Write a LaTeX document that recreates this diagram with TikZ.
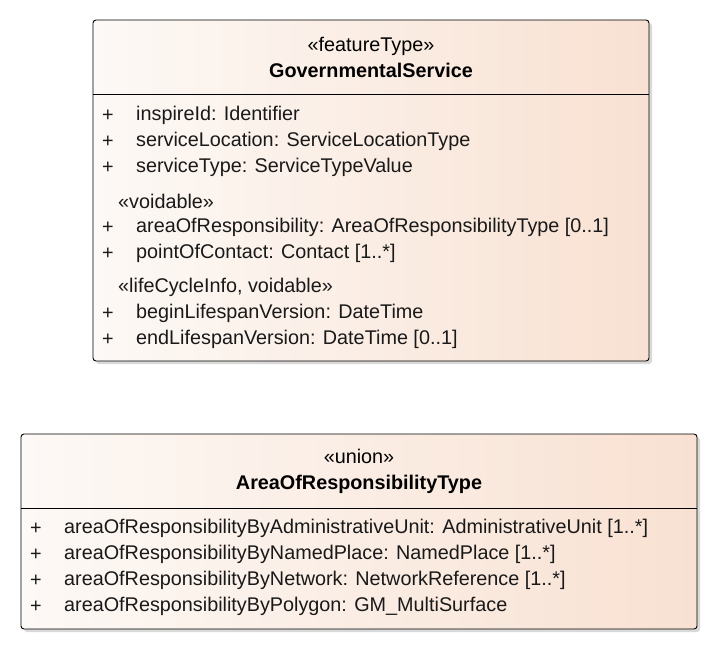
\documentclass[tikz,border=0pt]{standalone}
\usepackage{fontspec}
\setmainfont{Liberation Sans}
\usetikzlibrary{shadows}

\begin{document}
\begin{tikzpicture}[x=1pt, y=-1pt,
    % Colors
    cpale/.style={left color={rgb,255:red,253;green,249;blue,246}, right color={rgb,255:red,248;green,225;blue,210}},
    % Styles
    classbox/.style={draw, rounded corners=3pt, line width=0.9pt, cpale,
                     drop shadow={shadow xshift=3pt, shadow yshift=-3pt, fill=black!25, opacity=0.6}},
    header/.style={align=center, font=\fontsize{19.8}{26}\selectfont, inner sep=0pt},
    attr/.style={anchor=west, font=\fontsize{19.8}{23}\selectfont, inner sep=0pt, text=black!90, yshift=-1.5pt},
    vis/.style={anchor=center, font=\fontsize{19.8}{23}\selectfont, inner sep=0pt, text=black!90, yshift=-1.5pt},
  ]
  \useasboundingbox (0,0) rectangle (718,650);

  % GovernmentalService
  \node[classbox, minimum width=556pt, minimum height=341pt] (gs) at (371,190.5) {};
  \node[header, minimum width=556pt, minimum height=74pt] (gshead) at (371,57) {
    «featureType»\\
    \textbf{GovernmentalService}
  };
  \draw[line width=0.9pt] (gshead.south west) -- (gshead.south east);

  \node[vis] (gsp1) at (108,114) {+};
  \node[attr] (gsa1) at (136,114) {inspireId: Identifier};
  \node[vis] (gsp2) at (108,140) {+};
  \node[attr] (gsa2) at (136,140) {serviceLocation: ServiceLocationType};
  \node[vis] (gsp3) at (108,166) {+};
  \node[attr] (gsa3) at (136,166) {serviceType: ServiceTypeValue};

  \node[attr] (gsst1) at (118,200) {«voidable»};
  \node[vis] (gsp4) at (108,226) {+};
  \node[attr] (gsa4) at (136,226) {areaOfResponsibility: AreaOfResponsibilityType [0..1]};
  \node[vis] (gsp5) at (108,252) {+};
  \node[attr] (gsa5) at (136,252) {pointOfContact: Contact [1..*]};

  \node[attr] (gsst2) at (118,286) {«lifeCycleInfo, voidable»};
  \node[vis] (gsp6) at (108,312) {+};
  \node[attr] (gsa6) at (136,312) {beginLifespanVersion: DateTime};
  \node[vis] (gsp7) at (108,338) {+};
  \node[attr] (gsa7) at (136,338) {endLifespanVersion: DateTime [0..1]};

  % AreaOfResponsibilityType
  \node[classbox, minimum width=676pt, minimum height=195pt] (aor) at (359,531.5) {};
  \node[header, minimum width=676pt, minimum height=74pt] (aorhead) at (359,471) {
    «union»\\
    \textbf{AreaOfResponsibilityType}
  };
  \draw[line width=0.9pt] (aorhead.south west) -- (aorhead.south east);

  \node[vis] (aorp1) at (36,527) {+};
  \node[attr] (aora1) at (64,527) {areaOfResponsibilityByAdministrativeUnit: AdministrativeUnit [1..*]};
  \node[vis] (aorp2) at (36,553) {+};
  \node[attr] (aora2) at (64,553) {areaOfResponsibilityByNamedPlace: NamedPlace [1..*]};
  \node[vis] (aorp3) at (36,579) {+};
  \node[attr] (aora3) at (64,579) {areaOfResponsibilityByNetwork: NetworkReference [1..*]};
  \node[vis] (aorp4) at (36,605) {+};
  \node[attr] (aora4) at (64,605) {areaOfResponsibilityByPolygon: GM\_MultiSurface};

\end{tikzpicture}
\end{document}
